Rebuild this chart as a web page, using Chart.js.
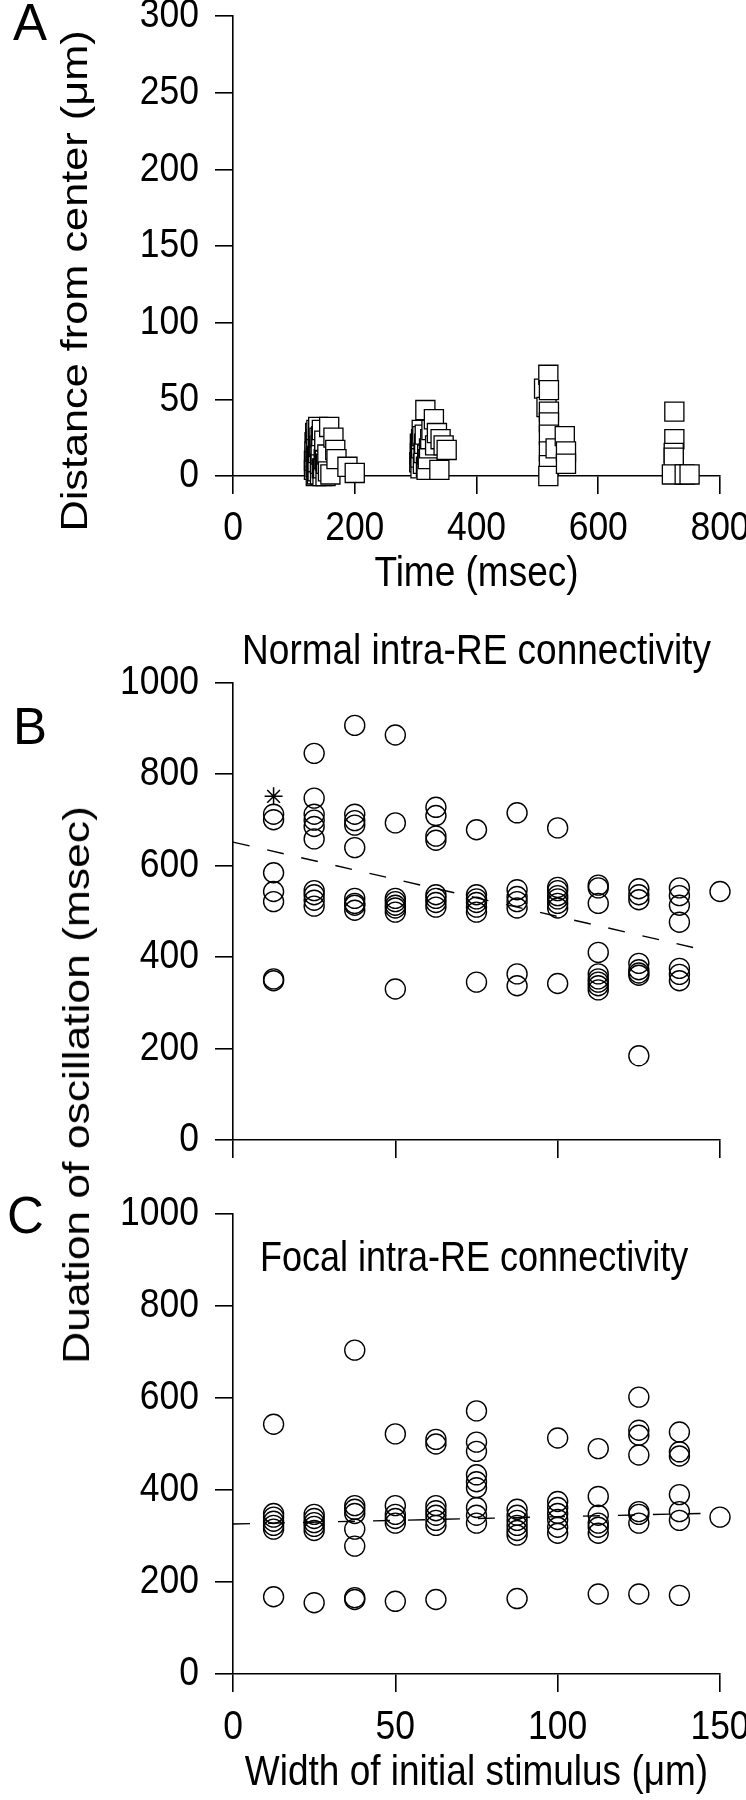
<!DOCTYPE html>
<html>
<head>
<meta charset="utf-8">
<title>Oscillation spread and duration</title>
<script src="https://cdn.jsdelivr.net/npm/chart.js@4.4.1/dist/chart.umd.min.js"></script>
<style>
  body { margin: 0; background: #fff; }
  #fig { position: relative; width: 746px; height: 1800px; overflow: hidden; }
  #fig canvas { position: absolute; left: 0; }
  #durTitle {
    position: absolute; left: 77px; top: 1085px;
    transform: translate(-50%, -50%) rotate(-90deg) scaleX(1.2);
    white-space: nowrap; line-height: 1; color: #000;
    font: 37px "Liberation Sans", Arial, Helvetica, sans-serif;
  }
</style>
</head>
<body>
<div id="fig">
  <canvas id="chartA" width="746" height="600" style="top:0"></canvas>
  <canvas id="chartB" width="746" height="570" style="top:620px"></canvas>
  <canvas id="chartC" width="746" height="630" style="top:1170px"></canvas>
  <div id="durTitle">Duation of oscillation (msec)</div>
</div>
<script>
// ---- panel A: distance of the wave front from the center vs time
var waveTime = [133, 133, 134, 134, 135, 136, 136, 136, 137, 137, 137, 138, 138, 139, 139, 140, 140, 140, 140,
  141, 142, 143, 143, 144, 144, 145, 146, 146, 147, 148, 149, 150, 150, 151, 152, 153, 155, 156, 158, 160,
  165, 168, 170, 188, 200,
  306, 307, 307, 308, 308, 309, 309, 310, 311, 312, 313, 314, 315, 316, 317, 318, 319, 320, 322, 324, 326,
  330, 332, 335, 339, 341, 346, 351,
  511, 515, 518, 519, 519, 519, 519, 519, 519, 518, 530, 545, 547, 547,
  725, 725, 724, 724, 721, 742, 750];
var waveDist = [4, 10, 16, 22, 28, 0, 6, 12, 18, 24, 30, 1, 13, 3, 9, 15, 21, 27, 32,
  19, 25, 1, 8, 14, 20, 26, 5, 30, 0, 5, 11, 17, 23, 10, 0, 8, 14, 3, 32, 1,
  25, 17, 11, 6, 2,
  9, 15, 21, 5, 12, 18, 24, 30, 26, 8, 15, 21, 27, 43, 6, 4, 14, 11, 18, 24, 30,
  37, 20, 28, 4, 24, 20, 17,
  57, 45, 66, 56, 42, 35, 27, 16, 7, 0, 18, 26, 16, 8,
  42, 24, 15, 12, 1, 1, 1];
var timeTicks = [0, 200, 400, 600, 800];
var distTicks = [0, 50, 100, 150, 200, 250, 300];

// ---- panels B and C: duration of oscillation vs width of initial stimulus
var stimWidths = [12.5, 25, 37.5, 50, 62.5, 75, 87.5, 100, 112.5, 125, 137.5, 150];
var normalDur = [
  [712, 700, 584, 543, 521, 352, 348],
  [845, 747, 712, 699, 685, 658, 545, 536, 524, 511],
  [906, 712, 698, 688, 639, 528, 517, 513, 502],
  [885, 693, 528, 521, 513, 507, 498, 330],
  [727, 709, 664, 655, 536, 528, 519, 509],
  [678, 536, 527, 519, 509, 498, 345],
  [715, 547, 532, 521, 507, 363, 337],
  [682, 552, 545, 534, 527, 517, 507, 342],
  [557, 551, 517, 410, 363, 352, 345, 337, 328],
  [549, 536, 525, 386, 372, 365, 360, 184],
  [551, 534, 513, 476, 375, 362, 348],
  [543]
];
var normalStar = [{x: 12.5, y: 751}];
var normalFit = [{x: 0, y: 651}, {x: 144, y: 417}];

var focalDur = [
  [543, 349, 341, 332, 323, 315, 168],
  [347, 338, 329, 321, 312, 155],
  [704, 366, 358, 349, 315, 278, 166, 162],
  [522, 366, 347, 338, 328, 158],
  [510, 500, 366, 355, 345, 334, 323, 162],
  [572, 504, 484, 433, 418, 405, 362, 345, 328],
  [358, 345, 334, 323, 312, 302, 164],
  [513, 375, 362, 349, 336, 319, 306],
  [490, 386, 345, 328, 319, 306, 174],
  [602, 530, 519, 476, 353, 347, 328, 174],
  [526, 483, 474, 390, 353, 334, 171],
  [341]
];
var focalFit = [{x: 0, y: 326}, {x: 144, y: 349}];
var widthTicks = [0, 50, 100, 150];
var durTicks = [0, 200, 400, 600, 800, 1000];

var FONT = '"Liberation Sans", Arial, Helvetica, sans-serif';
Chart.defaults.font.family = FONT;
Chart.defaults.color = '#000';

// the figure's lettering is taller than plain Arial: stretch canvas text vertically round its anchor
var TEXT_STRETCH = 1.17;
var rawFillText = CanvasRenderingContext2D.prototype.fillText;
CanvasRenderingContext2D.prototype.fillText = function(text, x, y, maxWidth) {
  var m = this.getTransform();
  var p = m.transformPoint(new DOMPoint(x, y));
  this.setTransform(new DOMMatrix().translate(p.x, p.y).scale(1, TEXT_STRETCH).translate(-p.x, -p.y).multiply(m));
  if (maxWidth === undefined) rawFillText.call(this, text, x, y);
  else rawFillText.call(this, text, x, y, maxWidth);
  this.setTransform(m);
};

function zip(xs, ys) {
  return xs.map(function(x, i) { return {x: x, y: ys[i]}; });
}

function columns(xs, groups) {
  var out = [];
  groups.forEach(function(g, i) {
    g.forEach(function(v) { out.push({x: xs[i], y: v}); });
  });
  return out;
}

// fixed axis box sizes so the plot areas land where the figure has them
function fixBox(w, h) {
  return function(scale) {
    if (w) scale.width = w;
    if (h) scale.height = h;
    scale.paddingLeft = scale.paddingRight = scale.paddingTop = scale.paddingBottom = 0;
  };
}

function axis(min, max, ticks, extra) {
  var a = {
    type: 'linear', min: min, max: max,
    afterBuildTicks: function(scale) {
      scale.ticks = ticks.map(function(v) { return {value: v}; });
    },
    border: {display: true, color: '#000', width: 1.6},
    grid: {drawOnChartArea: false, drawTicks: true, tickLength: 18, color: '#000', lineWidth: 1.6},
    ticks: {
      font: {size: 35.5}, color: '#000', padding: 13, maxRotation: 0, autoSkip: false,
      callback: function(v) { return String(v); }
    }
  };
  for (var k in extra) a[k] = extra[k];
  return a;
}

var panelText = {
  id: 'panelText',
  afterDraw: function(chart, args, opts) {
    var ctx = chart.ctx;
    (opts.items || []).forEach(function(it) {
      ctx.save();
      ctx.font = it.size + 'px ' + FONT;
      ctx.fillStyle = '#000';
      ctx.textAlign = it.align || 'left';
      ctx.textBaseline = it.baseline || 'alphabetic';
      ctx.translate(it.x, it.y);
      if (it.rotate) ctx.rotate(it.rotate);
      if (it.plain) rawFillText.call(ctx, it.text, 0, 0);
      else ctx.fillText(it.text, 0, 0);
      ctx.restore();
    });
  }
};

var circleStyle = {
  pointStyle: 'circle', pointRadius: 10, borderColor: '#000', borderWidth: 1.4,
  backgroundColor: 'rgba(0,0,0,0)', clip: false
};

function fitLine(data) {
  return {
    data: data, showLine: true, pointRadius: 0, borderColor: '#000', borderWidth: 1.4,
    borderDash: [17, 18], fill: false, clip: false
  };
}

function baseOptions() {
  return {
    responsive: false, animation: false, devicePixelRatio: 1,
    plugins: {legend: {display: false}, tooltip: {enabled: false}}
  };
}

// ---- A
var optA = baseOptions();
optA.layout = {padding: {top: 16, right: 26, left: 0, bottom: 0}};
optA.scales = {
  x: axis(0, 800, timeTicks, {
    afterFit: fixBox(0, 124),
    title: {display: true, text: 'Time (msec)', font: {size: 37}, color: '#000', padding: {top: 0, bottom: 4}}
  }),
  y: axis(0, 300, distTicks, {afterFit: fixBox(233, 0)})
};
optA.scales.y.ticks.padding = 16;
optA.plugins.panelText = {items: [
  {text: 'A', x: 13, y: 40, size: 51, plain: true},
  {text: 'Distance from center (\u03bcm)', x: 77, y: 281, size: 37, rotate: -Math.PI / 2, align: 'center', baseline: 'middle'}
]};

new Chart(document.getElementById('chartA'), {
  type: 'scatter',
  data: {datasets: [{
    data: zip(waveTime, waveDist), pointStyle: 'rect', pointRadius: 13.5,
    backgroundColor: '#fff', borderColor: '#000', borderWidth: 1.3, clip: false
  }]},
  options: optA,
  plugins: [panelText]
});

// ---- B
var optB = baseOptions();
optB.layout = {padding: {top: 0, right: 26, left: 0, bottom: 0}};
optB.plugins.title = {
  display: true, text: 'Normal intra-RE connectivity', fullSize: false, color: '#000',
  font: {size: 37, weight: 'normal'}, padding: {top: 10, bottom: 8}
};
optB.scales = {
  x: axis(0, 150, widthTicks, {afterFit: fixBox(0, 50)}),
  y: axis(0, 1000, durTicks, {afterFit: fixBox(233, 0)})
};
optB.scales.x.ticks.display = false;
optB.scales.y.ticks.padding = 16;
optB.plugins.panelText = {items: [{text: 'B', x: 13, y: 124, size: 51, plain: true}]};

new Chart(document.getElementById('chartB'), {
  type: 'scatter',
  data: {datasets: [
    fitLine(normalFit),
    Object.assign({data: columns(stimWidths, normalDur)}, circleStyle),
    {data: normalStar, pointStyle: 'star', pointRadius: 9, borderColor: '#000', borderWidth: 1.5, clip: false}
  ]},
  options: optB,
  plugins: [panelText]
});

// ---- C
var optC = baseOptions();
optC.layout = {padding: {top: 44, right: 26, left: 0, bottom: 0}};
optC.scales = {
  x: axis(0, 150, widthTicks, {
    afterFit: fixBox(0, 126),
    title: {display: true, text: 'Width of initial stimulus (\u03bcm)', font: {size: 37}, color: '#000', padding: {top: 0, bottom: 5}}
  }),
  y: axis(0, 1000, durTicks, {afterFit: fixBox(233, 0)})
};
optC.scales.x.ticks.padding = 14;
optC.scales.y.ticks.padding = 16;
optC.plugins.panelText = {items: [
  {text: 'C', x: 7, y: 63, size: 51, plain: true},
  {text: 'Focal intra-RE connectivity', x: 260, y: 101, size: 36}
]};

new Chart(document.getElementById('chartC'), {
  type: 'scatter',
  data: {datasets: [
    fitLine(focalFit),
    Object.assign({data: columns(stimWidths, focalDur)}, circleStyle)
  ]},
  options: optC,
  plugins: [panelText]
});
</script>
</body>
</html>
